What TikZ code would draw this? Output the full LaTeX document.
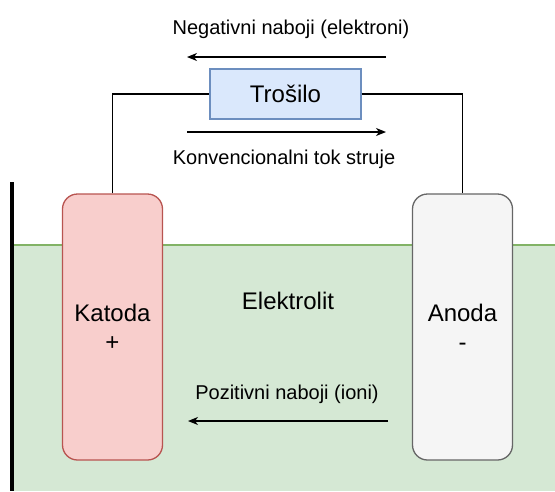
\documentclass[tikz,border=0pt]{standalone}
\usepackage{fontspec}
\setmainfont{Liberation Sans}
\usetikzlibrary{arrows.meta}
\definecolor{redfill}{HTML}{F8CECC}
\definecolor{redline}{HTML}{B85450}
\definecolor{greyfill}{HTML}{F5F5F5}
\definecolor{greyline}{HTML}{666666}
\definecolor{bluefill}{HTML}{DAE8FC}
\definecolor{blueline}{HTML}{6C8EBF}
\definecolor{greenfill}{HTML}{D5E8D4}
\definecolor{greenline}{HTML}{82B366}
\tikzset{
  bigtext/.style={font=\fontsize{24}{28.8}\selectfont},
  lbl/.style={font=\fontsize{20}{24}\selectfont, inner sep=0pt},
  electrode/.style={draw, line width=1.3pt, rounded corners=15pt, minimum width=100pt, minimum height=266pt, align=center, bigtext},
  wire/.style={line width=1.3pt},
  arr/.style={line width=1.3pt, -{Stealth[length=10pt,width=8pt,inset=3pt]}},
}
\begin{document}
\begin{tikzpicture}[x=1pt,y=-1pt]
\useasboundingbox (0,0) rectangle (555,491);
% electrolyte
\fill[greenfill] (13,245) rectangle (555,491);
\draw[greenline, line width=1.3pt] (13,245) -- (555,245);
\draw[line width=4pt] (12,182) -- (12,491);
% electrodes
\node[electrode, fill=redfill, draw=redline] (katoda) at (112.5,327) {Katoda\\+};
\node[electrode, fill=greyfill, draw=greyline] (anoda) at (462.5,327) {Anoda\\-};
% load
\node[draw=blueline, fill=bluefill, line width=1.3pt, minimum width=151pt, minimum height=50pt, bigtext] (trosilo) at (285.5,94) {Trošilo};
\draw[wire] (katoda.north) |- (trosilo.west);
\draw[wire] (trosilo.east) -| (anoda.north);
% arrows
\coordinate (n1) at (386,57); \coordinate (n2) at (187,57);
\draw[arr] (n1) -- (n2);
\coordinate (c1) at (187,132); \coordinate (c2) at (386,132);
\draw[arr] (c1) -- (c2);
\coordinate (p1) at (388,421); \coordinate (p2) at (188,421);
\draw[arr] (p1) -- (p2);
% labels
\node[lbl, anchor=base] (neg) at (291,34) {Negativni naboji (elektroni)};
\node[lbl, anchor=base] (konv) at (284,164) {Konvencionalni tok struje};
\node[lbl, anchor=base] (poz) at (287,399) {Pozitivni naboji (ioni)};
\node[bigtext, inner sep=0pt, anchor=base] (elyt) at (288,309) {Elektrolit};
\end{tikzpicture}
\end{document}
